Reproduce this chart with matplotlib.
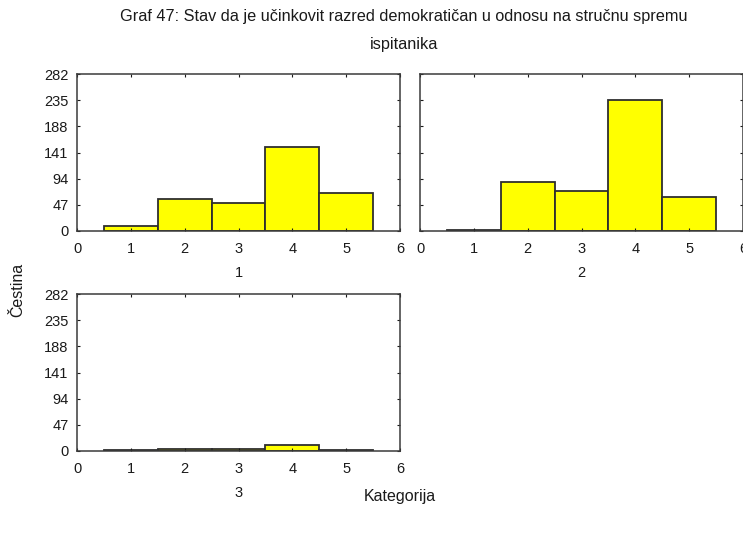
import matplotlib
matplotlib.use("Agg")
import matplotlib.pyplot as plt

plt.rcParams['font.family'] = ['Liberation Sans', 'DejaVu Sans']

categories = [1, 2, 3, 4, 5]
group1 = [9, 57, 51, 151, 69]
group2 = [2, 88, 71, 236, 61]
group3 = [1, 3, 3, 11, 2]
panel_labels = ["1", "2", "3"]
yticks = [0, 47, 94, 141, 188, 235, 282]
xticks = [0, 1, 2, 3, 4, 5, 6]

W, H = 743, 537
fig = plt.figure(figsize=(W / 100, H / 100), dpi=100)

def add_ax(x0, y0, x1, y1):
    return fig.add_axes([x0 / W, 1 - y1 / H, (x1 - x0) / W, (y1 - y0) / H])

boxes = [(77, 74, 400, 231), (420, 74, 743, 231), (77, 294, 400, 451)]
datas = [group1, group2, group3]

for i, (box, data, lab) in enumerate(zip(boxes, datas, panel_labels)):
    ax = add_ax(*box)
    ax.bar(categories, data, width=1.0, color="#ffff00", edgecolor="#2e2e2e", linewidth=1.3)
    ax.set_xlim(0, 6)
    ax.set_ylim(0, 282)
    ax.set_xticks(xticks)
    ax.set_yticks(yticks)
    if i == 1:
        ax.set_yticklabels([])
    ax.tick_params(direction="in", length=2.5, top=True, right=True, labelsize=10.5,
                   colors="#1a1a1a", pad=8)
    ax.tick_params(axis="y", pad=6)
    ax.set_xlabel(lab, fontsize=10.5, labelpad=7, color="#1a1a1a")
    for s in ax.spines.values():
        s.set_color("#3a3a3a")
        s.set_linewidth(1.1)

fig.text(404 / W, 1 - 17 / H, "Graf 47: Stav da je učinkovit razred demokratičan u odnosu na stručnu spremu",
         ha="center", va="center", fontsize=11.7, color="#1a1a1a")
fig.text(404 / W, 1 - 45 / H, "ispitanika", ha="center", va="center", fontsize=11.7, color="#1a1a1a")
fig.text(18 / W, 1 - 290 / H, "Čestina", rotation=90, ha="center", va="center", fontsize=11.5, color="#1a1a1a")
fig.text(400 / W, 1 - 497 / H, "Kategorija", ha="center", va="center", fontsize=11.5, color="#1a1a1a")

fig.savefig("out.png", dpi=100)
